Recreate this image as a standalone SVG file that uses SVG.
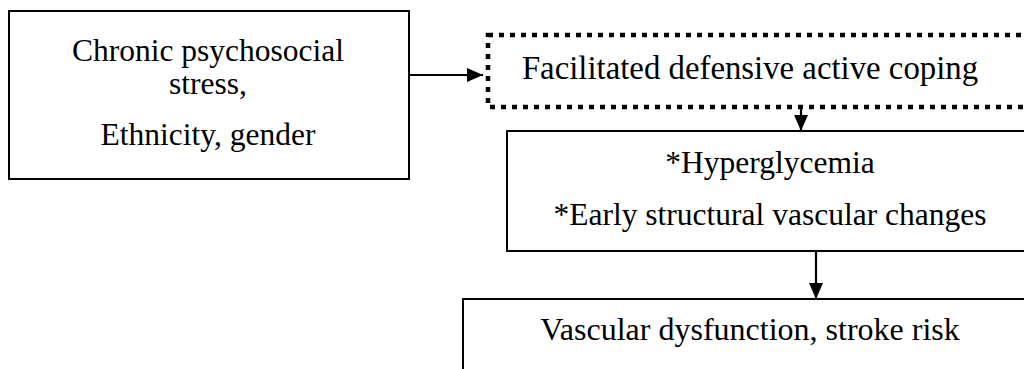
<svg xmlns="http://www.w3.org/2000/svg" width="1024" height="369" viewBox="0 0 1024 369">
<defs>
<style>
.box{fill:#fff;stroke:#000;stroke-width:2}
.dot{fill:#fff;stroke:#000;stroke-width:4.5;stroke-dasharray:5 6}
.t{font-family:"Liberation Serif","Times New Roman",serif;font-size:31.5px;fill:#000;text-anchor:middle}
.c{stroke:#000;stroke-width:2.2;fill:none}
</style>
<marker id="ah" markerUnits="userSpaceOnUse" markerWidth="18" markerHeight="16" refX="16" refY="7" orient="auto">
<path d="M0,0 L16,7 L0,14 Z" fill="#000"/>
</marker>
</defs>
<rect width="1024" height="369" fill="#fff"/>
<g id="n1">
<rect class="box" x="9" y="11" width="400" height="168"/>
<text class="t" x="208" y="61">Chronic psychosocial</text>
<text class="t" x="208" y="94">stress,</text>
<text class="t" x="208" y="145">Ethnicity, gender</text>
</g>
<g id="n2">
<rect class="dot" x="488" y="35" width="600" height="72"/>
<text class="t" x="750" y="79" style="font-size:32.8px">Facilitated defensive active coping</text>
</g>
<g id="n3">
<rect class="box" x="507" y="131" width="600" height="120"/>
<text class="t" x="770" y="173">*Hyperglycemia</text>
<text class="t" x="770" y="225">*Early structural vascular changes</text>
</g>
<g id="n4">
<rect class="box" x="463" y="299" width="650" height="120"/>
<text class="t" x="750" y="340" style="font-size:32px">Vascular dysfunction, stroke risk</text>
</g>
<g id="connectors">
<line class="c" x1="409" y1="75" x2="483" y2="75" marker-end="url(#ah)"/>
<line class="c" x1="801" y1="107" x2="801" y2="131" marker-end="url(#ah)"/>
<line class="c" x1="816" y1="251" x2="816" y2="299" marker-end="url(#ah)"/>
</g>
</svg>
